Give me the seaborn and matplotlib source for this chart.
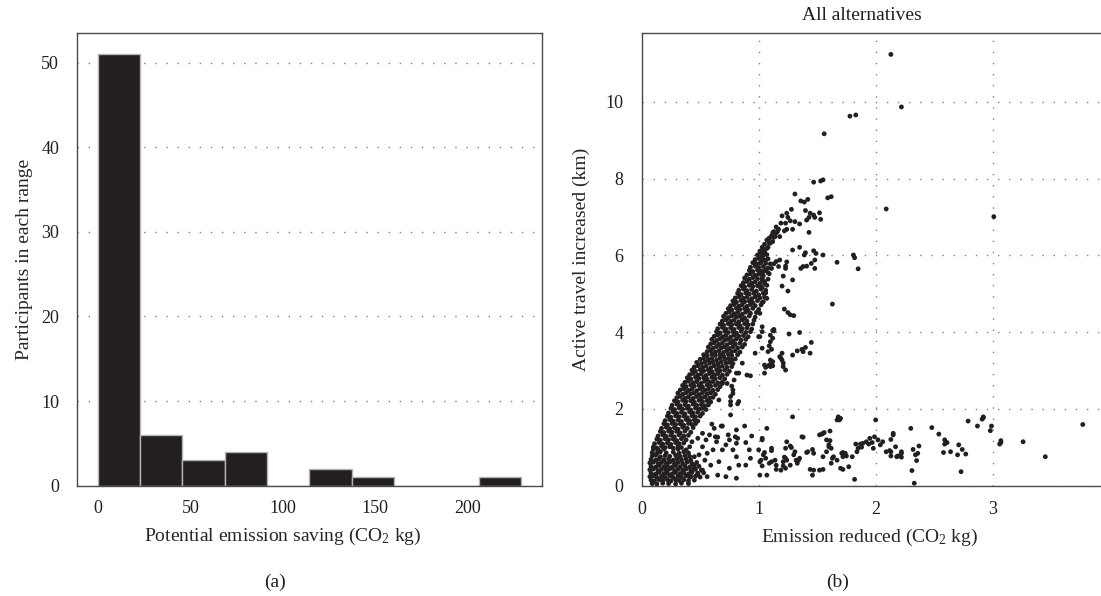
import numpy as np
import pandas as pd
import seaborn as sns
import matplotlib.pyplot as plt
from matplotlib.ticker import MultipleLocator

## (a) participants in each range of potential emission saving (CO2 kg)
bin_edges = [0, 22.9, 45.7, 68.6, 91.5, 114.3, 137.2, 160.1, 182.9, 205.8, 228.7]
participants = [51, 6, 3, 4, 0, 2, 1, 0, 0, 1]

## (b) one point per alternative: (emission reduced CO2 kg, active travel increased km)
# isolated points high up and the thinning top of the band
upper_pts = [
    (2.13, 11.24), (2.22, 9.87), (1.78, 9.63), (1.83, 9.66), (1.56, 9.17), (2.09, 7.21), (3.01, 7.01),
    (1.47, 7.91), (1.53, 7.94), (1.55, 7.97), (1.31, 7.60), (1.36, 7.42), (1.39, 7.39), (1.42, 7.46),
    (1.59, 7.50), (1.62, 7.53), (1.28, 7.20), (1.40, 7.17), (1.44, 7.10), (1.47, 7.05), (1.43, 6.99),
    (1.48, 6.99), (1.52, 7.11), (1.53, 6.94), (1.41, 6.92), (1.24, 7.10), (1.25, 6.99), (1.20, 7.03),
    (1.27, 6.90), (1.31, 6.88), (1.35, 6.82), (1.23, 6.84), (1.19, 6.84), (1.29, 6.68), (1.24, 6.68),
    (1.22, 6.64), (1.43, 6.60), (1.17, 6.68), (1.15, 6.59), (1.13, 6.62), (1.11, 6.51), (1.09, 6.45),
    (1.14, 6.49), (1.18, 6.49), (1.07, 6.40), (1.12, 6.36), (1.10, 6.32), (1.08, 6.21), (1.05, 6.14),
    (1.03, 6.10), (1.01, 6.04), (1.04, 6.01), (1.03, 5.92), (1.06, 5.88), (1.10, 5.78), (1.01, 5.79),
    (1.29, 6.14), (1.35, 6.21), (1.40, 6.07), (1.39, 6.01), (1.47, 6.12), (1.49, 6.05), (1.55, 6.01),
    (1.48, 5.88), (1.38, 5.71), (1.36, 5.66), (1.41, 5.72), (1.45, 5.79), (1.48, 5.66), (1.15, 5.84),
    (1.18, 5.88), (1.24, 5.83), (1.23, 5.72), (1.23, 5.66), (1.17, 5.71), (1.13, 5.78), (1.11, 5.66),
    (1.06, 5.62), (1.08, 5.55), (1.04, 5.58), (1.03, 5.49), (1.67, 5.82), (1.81, 6.01), (1.82, 5.94),
    (1.85, 5.65), (1.63, 4.73), (1.21, 5.46), (1.20, 5.20), (1.25, 5.07), (1.29, 5.36), (1.22, 4.60),
    (1.25, 4.51), (1.27, 4.45), (1.30, 4.43), (1.13, 4.07), (1.03, 5.36), (1.05, 5.27), (1.01, 5.18),
    (1.04, 5.01), (1.07, 4.88), (1.03, 4.77), (1.01, 4.49),
]

# points right of the band between 2 and 4 km
middle_pts = [
    (1.03, 4.01), (1.13, 4.03), (1.01, 3.88), (1.26, 3.95), (1.35, 3.99), (1.12, 3.84), (1.03, 3.58),
    (1.09, 3.64), (1.11, 3.55), (1.08, 3.49), (1.45, 3.73), (1.40, 3.60), (1.37, 3.55), (1.38, 3.49),
    (1.33, 3.51), (1.29, 3.40), (1.44, 3.45), (1.10, 3.27), (1.11, 3.19), (1.10, 3.10), (1.12, 3.23),
    (1.09, 3.14), (1.20, 3.45), (1.18, 3.36), (1.20, 3.27), (1.21, 3.19), (1.21, 3.10), (1.23, 3.01),
    (1.19, 3.32), (1.05, 2.93), (1.12, 4.04), (1.10, 3.92), (1.03, 4.14), (1.00, 3.88), (0.97, 3.45),
    (1.05, 3.14), (1.06, 3.08), (1.12, 3.12), (1.10, 3.75), (0.90, 2.88), (0.93, 2.86), (0.81, 2.93),
    (0.79, 2.75), (0.77, 2.59), (0.78, 2.49), (0.73, 2.66), (0.76, 2.32), (0.76, 2.19), (0.83, 2.19),
    (0.82, 2.13), (0.76, 1.84), (0.86, 3.19), (0.83, 2.93), (0.78, 2.40), (0.76, 2.10), (0.66, 2.23),
    (0.69, 2.66),
]

# sparse points between the band and the low cluster
gap_pts = [
    (0.62, 1.49), (0.60, 1.60), (0.69, 1.55), (0.81, 1.45), (0.88, 1.55), (0.94, 1.29), (1.03, 1.23),
    (0.82, 1.23), (0.75, 1.19), (0.72, 1.06), (0.65, 1.26), (0.61, 0.93), (0.69, 0.93), (0.78, 0.93),
    (0.81, 0.75), (0.92, 0.93), (0.93, 0.71), (1.02, 0.66), (0.89, 0.53), (0.83, 0.53), (0.75, 0.45),
    (0.66, 0.62), (0.59, 0.53), (0.65, 0.27), (0.72, 0.23), (0.81, 0.19), (0.56, 0.23), (0.52, 0.40),
    (0.48, 0.32), (0.45, 0.45), (0.42, 0.23), (0.54, 0.66), (0.49, 0.80), (0.56, 0.84), (0.45, 0.75),
    (0.52, 1.01), (0.55, 1.19), (0.58, 1.32), (0.52, 1.36), (0.48, 1.23), (0.43, 1.14), (0.41, 1.01),
    (1.07, 1.49), (1.03, 1.19), (0.68, 1.55), (0.74, 1.32), (0.64, 1.14), (0.63, 1.27), (0.80, 1.27),
    (0.81, 1.10), (0.89, 1.12), (1.00, 0.93), (1.04, 0.80), (1.01, 0.62), (1.11, 0.62), (1.15, 0.53),
    (1.21, 0.62), (1.23, 0.45), (1.24, 0.66), (1.27, 0.53), (1.34, 0.66), (1.37, 1.27), (1.47, 0.40),
    (1.52, 0.40), (1.55, 1.36), (1.58, 1.19), (1.60, 1.01), (1.62, 0.97), (1.64, 0.75), (1.67, 0.66),
    (1.70, 0.45),
]

# long low tail (under 2 km)
low_pts = [
    (1.29, 1.79), (1.68, 1.79), (1.70, 1.75), (1.67, 1.71), (1.69, 1.71), (2.00, 1.71), (1.38, 1.26),
    (1.54, 1.34), (1.56, 1.38), (1.61, 1.42), (1.52, 1.32), (1.24, 1.14), (1.27, 1.03), (1.28, 0.99),
    (1.11, 0.97), (1.11, 0.91), (1.05, 0.86), (1.06, 0.71), (1.09, 0.58), (1.03, 0.51), (1.01, 0.27),
    (1.07, 0.27), (1.14, 0.66), (1.15, 0.42), (1.19, 0.40), (1.22, 0.74), (1.21, 0.51), (1.23, 0.71),
    (1.23, 0.97), (1.30, 0.80), (1.32, 0.66), (1.33, 0.58), (1.35, 0.71), (1.31, 0.88), (1.42, 0.88),
    (1.46, 0.94), (1.47, 0.84), (1.41, 0.86), (1.44, 0.42), (1.46, 0.27), (1.55, 0.42), (1.55, 0.75),
    (1.58, 0.88), (1.60, 1.06), (1.61, 1.17), (1.63, 0.71), (1.62, 0.58), (1.72, 0.42), (1.71, 0.84),
    (1.72, 0.86), (1.74, 0.84), (1.75, 0.77), (1.72, 0.75), (1.77, 0.49), (1.80, 0.75), (1.82, 0.16),
    (1.84, 0.88), (1.85, 0.97), (1.87, 1.08), (1.83, 1.08), (1.88, 1.00), (1.89, 1.10), (1.92, 1.14),
    (1.95, 1.23), (1.94, 1.08), (1.97, 1.12), (1.98, 0.97), (1.99, 1.27), (2.02, 1.19), (2.04, 1.06),
    (2.06, 1.14), (2.09, 0.88), (2.13, 0.88), (2.15, 1.36), (2.13, 0.77), (2.17, 1.01), (2.18, 0.75),
    (2.15, 1.32), (2.13, 1.20), (2.12, 0.91), (2.19, 0.77), (2.22, 0.88), (2.22, 0.84), (2.22, 0.74),
    (2.30, 1.49), (2.31, 0.39), (2.33, 0.06), (2.32, 0.94), (2.34, 0.80), (2.35, 0.65), (2.36, 0.84),
    (2.37, 1.03), (2.48, 1.51), (2.54, 1.34), (2.58, 0.86), (2.59, 1.19), (2.59, 1.08), (2.61, 1.12),
    (2.64, 0.88), (2.71, 1.06), (2.70, 0.80), (2.74, 0.94), (2.77, 0.82), (2.73, 0.36), (2.79, 1.68),
    (2.87, 1.55), (2.92, 1.77), (2.92, 1.79), (2.91, 1.73), (2.98, 1.43), (2.99, 1.55), (3.07, 1.17),
    (3.06, 1.08), (3.07, 1.12), (3.26, 1.14), (3.45, 0.75), (3.77, 1.59),
]

# dense cluster near the origin
cluster_pts = [
    (0.09, 0.05), (0.13, 0.04), (0.18, 0.06), (0.23, 0.05), (0.29, 0.04), (0.34, 0.06), (0.40, 0.05),
    (0.08, 0.14), (0.11, 0.12), (0.15, 0.15), (0.18, 0.13), (0.22, 0.15), (0.25, 0.12), (0.29, 0.15),
    (0.32, 0.13), (0.36, 0.15), (0.40, 0.12), (0.45, 0.14),
    (0.07, 0.23), (0.10, 0.25), (0.13, 0.21), (0.17, 0.24), (0.20, 0.22), (0.24, 0.25), (0.27, 0.21),
    (0.31, 0.24), (0.34, 0.22), (0.38, 0.25), (0.41, 0.21), (0.46, 0.24), (0.50, 0.22),
    (0.08, 0.32), (0.12, 0.30), (0.15, 0.34), (0.19, 0.31), (0.22, 0.33), (0.26, 0.30), (0.29, 0.34),
    (0.33, 0.31), (0.36, 0.33), (0.40, 0.30), (0.43, 0.34), (0.48, 0.31), (0.53, 0.33),
    (0.07, 0.41), (0.10, 0.43), (0.14, 0.39), (0.17, 0.42), (0.21, 0.40), (0.24, 0.43), (0.28, 0.39),
    (0.31, 0.42), (0.35, 0.40), (0.38, 0.43), (0.42, 0.39), (0.46, 0.42), (0.51, 0.40),
    (0.08, 0.50), (0.12, 0.48), (0.15, 0.52), (0.19, 0.49), (0.22, 0.51), (0.26, 0.48), (0.29, 0.52),
    (0.33, 0.49), (0.37, 0.51), (0.41, 0.48), (0.45, 0.52), (0.49, 0.50),
    (0.07, 0.59), (0.10, 0.61), (0.14, 0.57), (0.17, 0.60), (0.21, 0.58), (0.24, 0.61), (0.28, 0.57),
    (0.31, 0.60), (0.35, 0.58), (0.39, 0.61), (0.43, 0.57), (0.47, 0.60),
    (0.08, 0.68), (0.12, 0.66), (0.15, 0.70), (0.19, 0.67), (0.23, 0.69), (0.27, 0.66), (0.30, 0.70),
    (0.34, 0.67), (0.38, 0.69), (0.42, 0.66),
    (0.09, 0.77), (0.12, 0.79), (0.16, 0.75), (0.20, 0.78), (0.24, 0.76), (0.29, 0.79), (0.33, 0.75),
    (0.37, 0.78), (0.41, 0.76),
    (0.09, 0.86), (0.13, 0.84), (0.16, 0.88), (0.21, 0.85), (0.27, 0.87), (0.32, 0.84), (0.36, 0.88),
    (0.40, 0.85), (0.10, 0.94), (0.14, 0.93), (0.19, 0.95), (0.31, 0.95), (0.38, 0.93),
]

# the main rising band
band_pts = [
    (0.10, 1.00), (0.13, 0.98), (0.17, 1.02), (0.20, 0.99), (0.24, 1.01), (0.27, 0.97), (0.31, 1.02), (0.34, 0.99),
    (0.11, 1.09), (0.15, 1.12), (0.18, 1.08), (0.22, 1.11), (0.25, 1.07), (0.29, 1.12), (0.32, 1.09), (0.36, 1.11),
    (0.13, 1.21), (0.16, 1.18), (0.20, 1.22), (0.23, 1.19), (0.27, 1.21), (0.30, 1.17), (0.34, 1.22), (0.38, 1.19),
    (0.14, 1.29), (0.18, 1.32), (0.21, 1.28), (0.25, 1.31), (0.28, 1.27), (0.32, 1.32), (0.36, 1.29), (0.40, 1.31),
    (0.16, 1.41), (0.19, 1.38), (0.23, 1.42), (0.26, 1.39), (0.30, 1.41), (0.33, 1.37), (0.37, 1.42), (0.42, 1.39),
    (0.17, 1.49), (0.21, 1.52), (0.24, 1.48), (0.28, 1.51), (0.31, 1.47), (0.35, 1.52), (0.39, 1.49), (0.44, 1.51),
    (0.19, 1.61), (0.22, 1.58), (0.26, 1.62), (0.29, 1.59), (0.33, 1.61), (0.36, 1.57), (0.40, 1.62), (0.43, 1.59),
    (0.46, 1.61),
    (0.20, 1.69), (0.24, 1.72), (0.27, 1.68), (0.31, 1.71), (0.34, 1.67), (0.38, 1.72), (0.41, 1.69), (0.45, 1.71),
    (0.48, 1.68),
    (0.22, 1.81), (0.25, 1.78), (0.29, 1.82), (0.32, 1.79), (0.36, 1.81), (0.39, 1.77), (0.43, 1.82), (0.46, 1.79),
    (0.50, 1.81),
    (0.23, 1.89), (0.27, 1.92), (0.30, 1.88), (0.34, 1.91), (0.37, 1.87), (0.41, 1.92), (0.44, 1.89), (0.48, 1.91),
    (0.52, 1.88),
    (0.25, 2.01), (0.28, 1.98), (0.32, 2.02), (0.35, 1.99), (0.39, 2.01), (0.42, 1.97), (0.46, 2.02), (0.49, 1.99),
    (0.52, 2.01), (0.55, 1.98),
    (0.26, 2.09), (0.30, 2.12), (0.33, 2.08), (0.37, 2.11), (0.40, 2.07), (0.44, 2.12), (0.47, 2.09), (0.51, 2.11),
    (0.54, 2.08), (0.57, 2.10),
    (0.28, 2.21), (0.31, 2.18), (0.35, 2.22), (0.38, 2.19), (0.42, 2.21), (0.45, 2.17), (0.49, 2.22), (0.52, 2.19),
    (0.56, 2.21), (0.59, 2.18),
    (0.30, 2.29), (0.33, 2.32), (0.37, 2.28), (0.40, 2.31), (0.44, 2.27), (0.47, 2.32), (0.51, 2.29), (0.54, 2.31),
    (0.58, 2.28), (0.61, 2.30),
    (0.31, 2.41), (0.35, 2.38), (0.38, 2.42), (0.42, 2.39), (0.45, 2.41), (0.49, 2.37), (0.52, 2.42), (0.56, 2.39),
    (0.59, 2.41), (0.63, 2.38),
    (0.33, 2.49), (0.36, 2.52), (0.40, 2.48), (0.43, 2.51), (0.47, 2.47), (0.50, 2.52), (0.54, 2.49), (0.57, 2.51),
    (0.61, 2.48), (0.65, 2.50),
    (0.35, 2.61), (0.38, 2.58), (0.42, 2.62), (0.45, 2.59), (0.49, 2.61), (0.52, 2.57), (0.56, 2.62), (0.59, 2.59),
    (0.63, 2.61), (0.67, 2.58),
    (0.37, 2.69), (0.40, 2.72), (0.44, 2.68), (0.47, 2.71), (0.51, 2.67), (0.54, 2.72), (0.58, 2.69), (0.61, 2.71),
    (0.65, 2.68), (0.69, 2.70),
    (0.39, 2.81), (0.42, 2.78), (0.46, 2.82), (0.49, 2.79), (0.53, 2.81), (0.56, 2.77), (0.60, 2.82), (0.63, 2.79),
    (0.67, 2.81), (0.71, 2.78),
    (0.41, 2.89), (0.44, 2.92), (0.48, 2.88), (0.51, 2.91), (0.55, 2.87), (0.58, 2.92), (0.62, 2.89), (0.65, 2.91),
    (0.69, 2.88), (0.73, 2.90),
    (0.43, 3.01), (0.46, 2.98), (0.50, 3.02), (0.53, 2.99), (0.57, 3.01), (0.60, 2.97), (0.64, 3.02), (0.67, 2.99),
    (0.71, 3.01), (0.75, 2.98),
    (0.45, 3.09), (0.48, 3.12), (0.52, 3.08), (0.55, 3.11), (0.59, 3.07), (0.62, 3.12), (0.66, 3.09), (0.69, 3.11),
    (0.73, 3.08), (0.77, 3.10),
    (0.47, 3.21), (0.51, 3.18), (0.54, 3.22), (0.58, 3.19), (0.61, 3.21), (0.65, 3.17), (0.68, 3.22), (0.72, 3.19),
    (0.75, 3.21), (0.78, 3.18),
    (0.50, 3.29), (0.53, 3.32), (0.57, 3.28), (0.60, 3.31), (0.64, 3.27), (0.67, 3.32), (0.71, 3.29), (0.74, 3.31),
    (0.77, 3.28), (0.80, 3.30),
    (0.53, 3.41), (0.56, 3.38), (0.60, 3.42), (0.63, 3.39), (0.67, 3.41), (0.70, 3.37), (0.74, 3.42), (0.77, 3.39),
    (0.82, 3.41),
    (0.56, 3.49), (0.59, 3.52), (0.63, 3.48), (0.66, 3.51), (0.70, 3.47), (0.73, 3.52), (0.77, 3.49), (0.80, 3.51),
    (0.84, 3.48),
    (0.57, 3.61), (0.61, 3.58), (0.64, 3.62), (0.68, 3.59), (0.71, 3.61), (0.75, 3.57), (0.78, 3.62), (0.82, 3.59),
    (0.86, 3.61),
    (0.59, 3.69), (0.62, 3.72), (0.66, 3.68), (0.69, 3.71), (0.73, 3.67), (0.76, 3.72), (0.80, 3.69), (0.84, 3.71),
    (0.88, 3.68),
    (0.60, 3.81), (0.64, 3.78), (0.67, 3.82), (0.71, 3.79), (0.74, 3.81), (0.78, 3.77), (0.81, 3.82), (0.85, 3.79),
    (0.89, 3.81),
    (0.62, 3.89), (0.65, 3.92), (0.69, 3.88), (0.72, 3.91), (0.76, 3.87), (0.79, 3.92), (0.83, 3.89), (0.87, 3.91),
    (0.91, 3.88),
    (0.64, 4.01), (0.67, 3.98), (0.71, 4.02), (0.74, 3.99), (0.78, 4.01), (0.81, 3.97), (0.85, 4.02), (0.89, 3.99),
    (0.93, 4.01),
    (0.65, 4.09), (0.69, 4.12), (0.72, 4.08), (0.76, 4.11), (0.79, 4.07), (0.83, 4.12), (0.86, 4.09), (0.90, 4.11),
    (0.94, 4.08),
    (0.67, 4.21), (0.70, 4.18), (0.74, 4.22), (0.77, 4.19), (0.81, 4.21), (0.84, 4.17), (0.88, 4.22), (0.91, 4.19),
    (0.95, 4.21),
    (0.69, 4.29), (0.72, 4.32), (0.76, 4.28), (0.79, 4.31), (0.83, 4.27), (0.86, 4.32), (0.90, 4.29), (0.96, 4.31),
    (0.70, 4.41), (0.74, 4.38), (0.77, 4.42), (0.81, 4.39), (0.84, 4.41), (0.88, 4.37), (0.92, 4.42), (0.97, 4.39),
    (0.72, 4.49), (0.75, 4.52), (0.79, 4.48), (0.82, 4.51), (0.86, 4.47), (0.89, 4.52), (0.93, 4.49), (0.98, 4.51),
    (0.74, 4.61), (0.77, 4.58), (0.81, 4.62), (0.84, 4.59), (0.88, 4.61), (0.91, 4.57), (0.95, 4.62), (1.00, 4.59),
    (0.76, 4.69), (0.79, 4.72), (0.83, 4.68), (0.86, 4.71), (0.90, 4.67), (0.93, 4.72), (0.97, 4.69), (1.02, 4.71),
    (0.78, 4.81), (0.81, 4.78), (0.85, 4.82), (0.88, 4.79), (0.92, 4.81), (0.95, 4.77), (0.99, 4.82), (1.04, 4.79),
    (0.80, 4.89), (0.83, 4.92), (0.87, 4.88), (0.90, 4.91), (0.94, 4.87), (0.97, 4.92), (1.01, 4.89), (1.05, 4.91),
    (0.82, 5.01), (0.85, 4.98), (0.89, 5.02), (0.92, 4.99), (0.96, 5.01), (1.00, 4.97), (1.06, 5.02),
    (0.83, 5.09), (0.87, 5.12), (0.90, 5.08), (0.94, 5.11), (0.98, 5.07), (1.02, 5.12), (1.06, 5.09),
    (0.85, 5.21), (0.88, 5.18), (0.92, 5.22), (0.95, 5.19), (0.99, 5.21), (1.03, 5.17), (1.07, 5.22),
    (0.87, 5.29), (0.90, 5.32), (0.94, 5.28), (0.97, 5.31), (1.01, 5.27), (1.05, 5.32),
    (0.88, 5.41), (0.92, 5.38), (0.95, 5.42), (0.99, 5.39), (1.03, 5.41), (1.08, 5.38),
    (0.90, 5.49), (0.93, 5.52), (0.97, 5.48), (1.00, 5.51), (1.04, 5.47), (1.09, 5.52),
    (0.92, 5.61), (0.95, 5.58), (0.99, 5.62), (1.02, 5.59), (1.06, 5.61),
    (0.93, 5.69), (0.97, 5.72), (1.00, 5.68), (1.04, 5.71), (1.08, 5.67),
    (0.95, 5.81), (0.98, 5.78), (1.02, 5.82), (1.06, 5.79),
    (0.97, 5.89), (1.00, 5.92), (1.04, 5.88), (1.08, 5.91),
    (0.99, 6.01), (1.03, 5.98), (1.07, 6.02), (1.01, 6.11), (1.05, 6.08), (1.03, 6.21), (1.07, 6.18),
    (1.05, 6.29), (1.09, 6.32), (1.09, 6.44), (1.13, 6.47), (1.12, 6.59), (1.16, 6.62), (1.15, 6.74),
]

ink = '#231f20'
frame = '#4a4a4a'
dots = '#808080'


def styleAxis(ax):
    for side in ax.spines.values():
        side.set_color(frame)
        side.set_linewidth(1.0)
    ax.set_axisbelow(True)


sns.set_style('white')
plt.rcParams['font.family'] = ['Liberation Serif', 'DejaVu Serif']
plt.rcParams['mathtext.fontset'] = 'custom'
plt.rcParams['mathtext.rm'] = 'Liberation Serif'
plt.rcParams['mathtext.it'] = 'Liberation Serif:italic'
plt.rcParams['text.color'] = ink

fig = plt.figure(figsize=(11.01, 5.96), dpi=100)
axA = fig.add_axes([0.0700, 0.1851, 0.4227, 0.7596])
axB = fig.add_axes([0.5828, 0.1854, 0.4172, 0.7587])

## (a) histogram
mids = [(lo + hi) / 2 for lo, hi in zip(bin_edges[:-1], bin_edges[1:])]
sns.histplot(x=mids, weights=participants, bins=bin_edges, ax=axA,
             color=ink, edgecolor='#b4b4b4', linewidth=1.0, alpha=1)
axA.set_xlim(-11.2, 240.3)
axA.set_ylim(0, 53.5)
axA.set_xticks([0, 50, 100, 150, 200])
axA.set_yticks([0, 10, 20, 30, 40, 50])
axA.yaxis.grid(True, color=dots, linestyle=(0, (1, 7)), linewidth=1.0)
axA.tick_params(axis='both', direction='out', length=5, width=1, color=frame,
                labelsize=13, labelcolor=ink)
axA.tick_params(axis='y', pad=8)
axA.tick_params(axis='x', pad=5)
styleAxis(axA)
axA.set_xlabel('Potential emission saving (CO$_2$ kg)', fontsize=14, va='center')
axA.xaxis.set_label_coords(0.442, -0.1127)
axA.set_ylabel('Participants in each range', fontsize=14, va='center')
axA.yaxis.set_label_coords(-0.114, 0.5)

## (b) scatter
allPts = upper_pts + middle_pts + gap_pts + low_pts + cluster_pts + band_pts
points_df = pd.DataFrame(allPts, columns=['emission', 'travel'])
sns.scatterplot(data=points_df, x='emission', y='travel', ax=axB,
                color=ink, s=12, linewidth=0, edgecolor='none')
axB.set_xlim(0, 3.926)
axB.set_ylim(0, 11.79)
axB.set_xticks([0, 1, 2, 3])
axB.set_yticks([0, 2, 4, 6, 8, 10])
axB.xaxis.set_minor_locator(MultipleLocator(0.1))
axB.yaxis.set_minor_locator(MultipleLocator(0.25))
axB.grid(True, which='major', color=dots, linestyle=(0, (1, 7)), linewidth=1.0)
axB.tick_params(axis='both', which='major', direction='out', width=1, color=frame,
                labelsize=13, labelcolor=ink)
axB.tick_params(axis='y', which='major', length=6.5, pad=6.5)
axB.tick_params(axis='x', which='major', length=4.5, pad=6.5)
axB.tick_params(axis='both', which='minor', direction='inout', length=3, width=0.8, color=frame)
styleAxis(axB)
axB.spines['right'].set_visible(False)
axB.set_xlabel('Emission reduced (CO$_2$ kg)', fontsize=14, va='center')
axB.xaxis.set_label_coords(0.497, -0.1145)
axB.set_ylabel('Active travel increased (km)', fontsize=14, va='center')
axB.yaxis.set_label_coords(-0.132, 0.5)

fig.text(862 / 1101, 1 - 15 / 596, 'All alternatives', ha='center', va='center', fontsize=14)
fig.text(275 / 1101, 1 - 582 / 596, '(a)', ha='center', va='center', fontsize=14)
fig.text(838 / 1101, 1 - 582 / 596, '(b)', ha='center', va='center', fontsize=14)

fig.savefig('out.png', dpi=100)
